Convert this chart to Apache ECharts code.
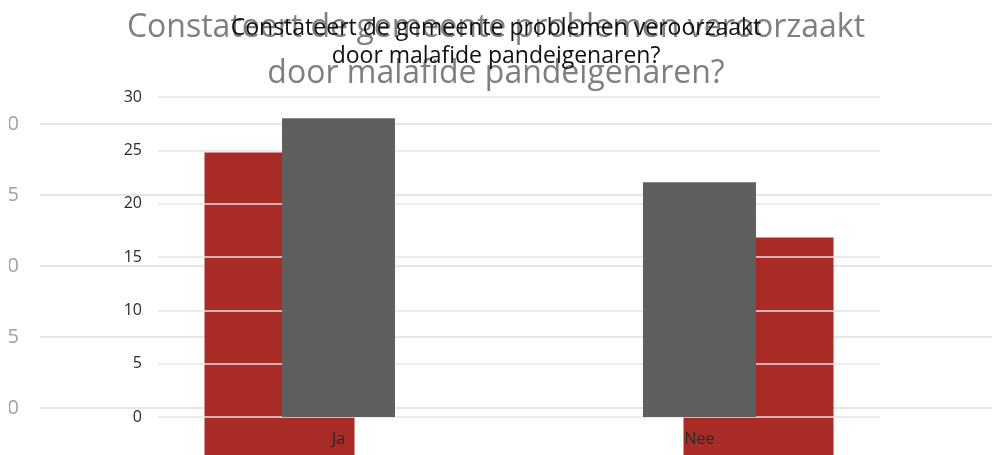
<!DOCTYPE html>
<html>
<head>
<meta charset="utf-8">
<script src="https://cdn.jsdelivr.net/npm/echarts@6/dist/echarts.min.js"></script>
<style>html,body{margin:0;padding:0;background:#fff}#c{width:992px;height:455px}</style>
</head>
<body>
<div id="c"></div>
<script>
var titleText = 'Constateert de gemeente problemen veroorzaakt\ndoor malafide pandeigenaren?';
var categories = ['Ja', 'Nee'];
var backValues = [28, 22];   // red bars (background copy of the chart, larger scale)
var frontValues = [28, 22];  // grey bars (foreground chart)
var yMin = 0, yMax = 30, yStep = 5;

var chart = echarts.init(document.getElementById('c'));
var font = 'Open Sans';
chart.setOption({
  animation: false,
  backgroundColor: '#ffffff',
  title: [
    {
      text: titleText, left: 'center', top: 0, z: 1,
      textStyle: { fontFamily: font, fontSize: 32, fontWeight: 'normal', color: '#7f7f7f', lineHeight: 46 }
    },
    {
      text: titleText, left: 'center', top: 9, z: 10,
      textStyle: { fontFamily: font, fontSize: 23, fontWeight: 'normal', color: '#111111', lineHeight: 28 }
    }
  ],
  grid: [
    { left: 40, top: 124, width: 958, height: 426, containLabel: false, outerBoundsMode: 'none' },
    { left: 158, top: 97, width: 722, height: 320, containLabel: false, outerBoundsMode: 'none' }
  ],
  xAxis: [
    { type: 'category', gridIndex: 0, data: categories, z: 0,
      axisLine: { show: false }, axisTick: { show: false },
      axisLabel: { fontFamily: font, fontSize: 20, color: '#999' } },
    { type: 'category', gridIndex: 1, data: categories, z: 5,
      axisLine: { show: false }, axisTick: { show: false },
      axisLabel: { fontFamily: font, fontSize: 16, color: '#2b2b2b', margin: 14 } }
  ],
  yAxis: [
    { type: 'value', gridIndex: 0, min: yMin, max: yMax, interval: yStep, z: 0,
      axisLine: { show: false }, axisTick: { show: false },
      axisLabel: { fontFamily: font, fontSize: 20, color: '#a0a0a6', margin: 21 },
      splitLine: { lineStyle: { color: '#e6e5ec', width: 2 } } },
    { type: 'value', gridIndex: 1, min: yMin, max: yMax, interval: yStep, z: 3,
      axisLine: { show: false }, axisTick: { show: false },
      axisLabel: { fontFamily: font, fontSize: 16, color: '#2b2b2b', margin: 16 },
      splitLine: { lineStyle: { color: 'rgba(228,228,234,0.75)', width: 2 } } }
  ],
  graphic: [
    { type: 'rect', left: 0, top: 90, z: 100, shape: { x: 0, y: 0, width: 9, height: 340 }, style: { fill: '#ffffff' } }
  ],
  series: [
    { type: 'bar', name: 'back', xAxisIndex: 0, yAxisIndex: 0, data: backValues, barWidth: 150, z: 1,
      itemStyle: { color: '#a82b25' } },
    { type: 'bar', name: 'front', xAxisIndex: 1, yAxisIndex: 1, data: frontValues, barWidth: 113, z: 4,
      itemStyle: { color: '#5f5f5d' } }
  ]
});
</script>
</body>
</html>
